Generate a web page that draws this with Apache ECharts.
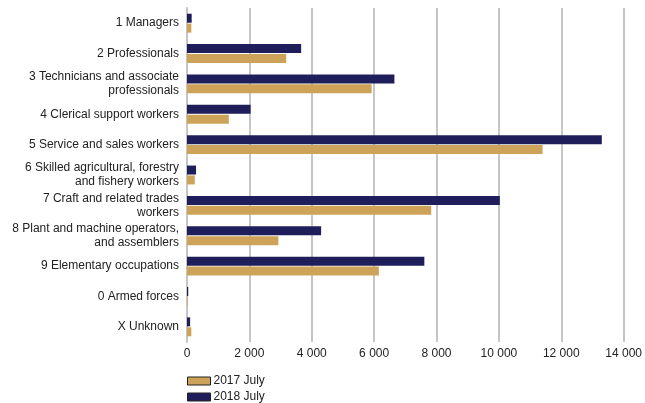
<!DOCTYPE html>
<html>
<head>
<meta charset="utf-8">
<script src="https://cdn.jsdelivr.net/npm/echarts@6/dist/echarts.min.js"></script>
<style>
  html, body { margin: 0; padding: 0; background: #fff; }
  #chart { width: 645px; height: 403px; }
</style>
</head>
<body>
<div id="chart"></div>
<script>
// occupation groups, top to bottom
const categories = [
  "1 Managers",
  "2 Professionals",
  "3 Technicians and associate\nprofessionals",
  "4 Clerical support workers",
  "5 Service and sales workers",
  "6 Skilled agricultural, forestry\nand fishery workers",
  "7 Craft and related trades\nworkers",
  "8 Plant and machine operators,\nand assemblers",
  "9 Elementary occupations",
  "0 Armed forces",
  "X Unknown",
];
const july2017 = [140, 3180, 5920, 1340, 11400, 250, 7830, 2930, 6150, 20, 140];
const july2018 = [150, 3660, 6650, 2040, 13300, 290, 10030, 4300, 7610, 40, 100];
const xTicks = [0, 2000, 4000, 6000, 8000, 10000, 12000, 14000];

const chart = echarts.init(document.getElementById("chart"));
const fmt = (v) => String(v).replace(/\B(?=(\d{3})+(?!\d))/g, " ");

const option = {
  animation: false,
  textStyle: { fontFamily: "Liberation Sans, Arial, sans-serif" },
  grid: { left: 187, right: 19, top: 8, bottom: 61 },
  legend: {
    orient: "vertical",
    left: 187,
    top: 375,
    padding: 0,
    height: 40,
    itemWidth: 23,
    itemHeight: 8,
    itemGap: 4,
    icon: "rect",
    textStyle: { fontSize: 12, color: "#222", padding: [0, 0, 0, -2] },
    data: [
      { name: "2017 July", itemStyle: { borderColor: "#222", borderWidth: 1 } },
      { name: "2018 July", itemStyle: { borderColor: "#222", borderWidth: 1 } },
    ],
  },
  xAxis: {
    type: "value",
    min: xTicks[0],
    max: xTicks[xTicks.length - 1],
    interval: 2000,
    axisLine: { show: false },
    axisTick: { show: false },
    axisLabel: { fontSize: 12, color: "#222", margin: 6, formatter: fmt },
    splitLine: { show: true, lineStyle: { color: "#c6c6c6", width: 2 } },
  },
  yAxis: {
    type: "category",
    inverse: true,
    data: categories,
    axisLine: { show: true, lineStyle: { color: "#c6c6c6", width: 2 } },
    axisTick: { show: false },
    axisLabel: {
      fontSize: 12,
      color: "#222",
      margin: 8,
      lineHeight: 14,
      align: "right",
    },
  },
  series: [
    {
      name: "2018 July",
      type: "bar",
      data: july2018,
      barWidth: 9,
      barGap: "10%",
      itemStyle: { color: "#201e5a" },
    },
    {
      name: "2017 July",
      type: "bar",
      data: july2017,
      barWidth: 9,
      barGap: "10%",
      itemStyle: { color: "#cda35a" },
    },
  ],
};
chart.setOption(option);
</script>
</body>
</html>
